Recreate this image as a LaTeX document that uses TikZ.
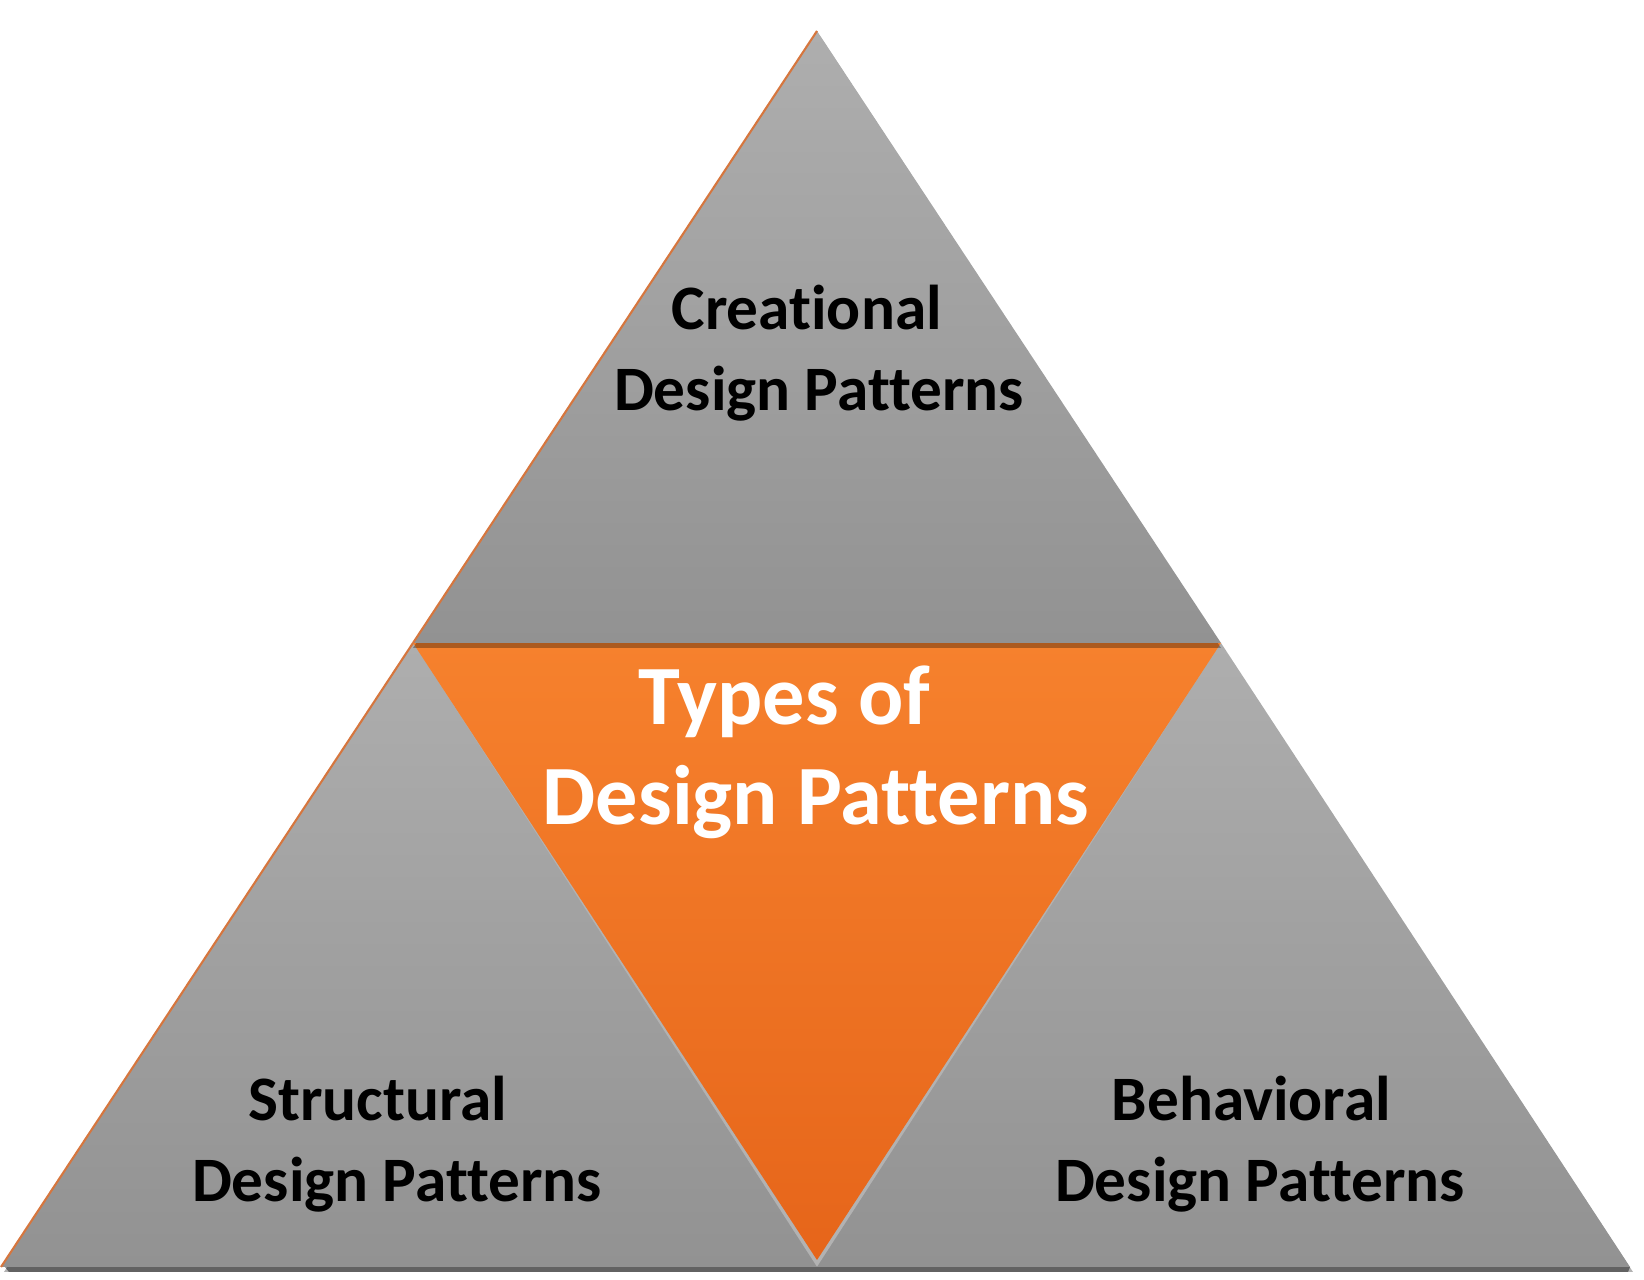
\documentclass[tikz,border=0pt]{standalone}
\usepackage{fontspec}
\setmainfont{Carlito}[Ligatures=NoCommon]
\definecolor{paneLight}{RGB}{174,174,174}
\definecolor{paneDark}{RGB}{146,146,146}
\definecolor{coreLight}{RGB}{246,129,45}
\definecolor{coreDark}{RGB}{230,101,26}
\definecolor{edgeOrange}{RGB}{214,118,62}
\tikzset{
  pane/.style={top color=paneLight,bottom color=paneDark,draw=none},
  core/.style={top color=coreLight,bottom color=coreDark,draw=none},
  pane shadow/.style={fill=black,opacity=.3,draw=none},
  pane edge/.style={draw=edgeOrange,line width=.6pt},
  pane label/.style={align=center,font=\fontsize{18}{23}\selectfont\bfseries,text=black,inner sep=0pt},
  core label/.style={align=center,font=\fontsize{24}{28.5}\selectfont\bfseries,text=white,inner sep=0pt}
}
\begin{document}
\begin{tikzpicture}[x=0.01cm,y=-0.01cm]
  \useasboundingbox (0,0) rectangle (1644,1280);
  \coordinate (apex) at (817,31);
  \coordinate (midL) at (413,643);
  \coordinate (midR) at (1221,643);
  \coordinate (botL) at (1,1267);
  \coordinate (botM) at (817,1267);
  \coordinate (botR) at (1630,1267);
  \coordinate (tip) at (817,1260);

  % drop shadow of the whole pyramid
  \fill[pane shadow] ([shift={(3,5)}]apex) -- ([shift={(3,5)}]botR) -- ([shift={(3,5)}]botL) -- cycle;
  \fill[pane shadow,opacity=.45] ([shift={(4,0)}]botL) -- (botR) -- ([shift={(-2,5)}]botR) -- ([shift={(8,5)}]botL) -- cycle;

  % lower panes and the core
  \shade[pane] (midL) -- (botM) -- (botL) -- cycle;
  \shade[pane] (midR) -- (botR) -- (botM) -- cycle;
  \shade[core] (midL) -- (midR) -- (tip) -- cycle;

  % top pane with its shadow on the core
  \fill[pane shadow] ([shift={(0,5)}]apex) -- ([shift={(0,5)}]midR) -- ([shift={(0,5)}]midL) -- cycle;
  \shade[pane] (apex) -- (midR) -- (midL) -- cycle;
  \draw[pane edge] (apex) -- (midL);
  \draw[pane edge] (midL) -- (botL);

  \node[pane label] (creational) at (819,353) {Creational\kern7pt\\Design Patterns};
  \node[core label] (types) at (816,752) {Types of\kern18pt\\Design Patterns};
  \node[pane label] (structural) at (397,1144) {Structural\kern11pt\\Design Patterns};
  \node[pane label] (behavioral) at (1260,1144) {Behavioral\kern5pt\\Design Patterns};
\end{tikzpicture}
\end{document}
